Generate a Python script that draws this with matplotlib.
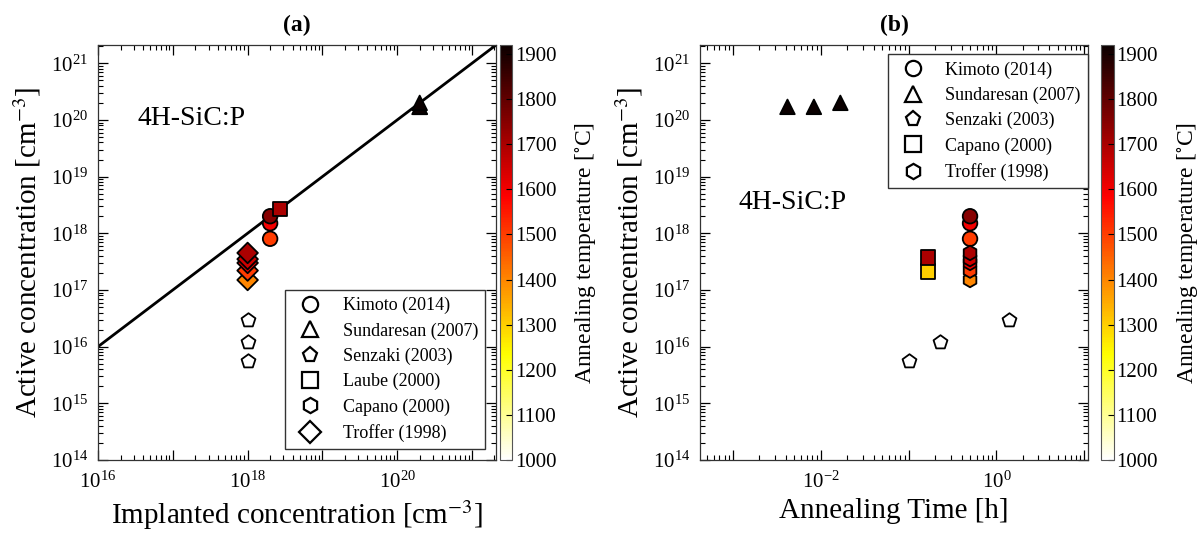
import numpy as np
import matplotlib

matplotlib.use('Agg')
import matplotlib.pyplot as plt
from matplotlib.lines import Line2D
from matplotlib.colors import Normalize
from matplotlib.cm import ScalarMappable
from matplotlib.ticker import LogLocator, FuncFormatter, NullFormatter, MultipleLocator

plt.rcParams['font.family'] = ['Liberation Serif', 'DejaVu Serif']
plt.rcParams['mathtext.fontset'] = 'stix'

# --- phosphorus activation data (4H-SiC) ---
# Kimoto (2014): implanted / active [cm^-3], anneal time [h], temperature [C]
kimoto_impl = [2e18, 2e18, 2e18]
kimoto_act = [8e17, 1.5e18, 2e18]
kimoto_time = [0.5, 0.5, 0.5]
kimoto_temp = [1500, 1600, 1750]

# Sundaresan (2007)
sund_impl = [2e20, 2e20, 2e20]
sund_act = [1.7e20, 1.7e20, 2e20]
sund_time = [15 / 3600, 30 / 3600, 60 / 3600]
sund_temp = [1950, 1950, 1950]

# Senzaki (2003) - no temperature colouring
senz_impl = [1e18, 1e18, 1e18]
senz_act = [5.5e15, 1.2e16, 3e16]
senz_time = [0.1, 0.23, 1.4]

# Laube (2000)
laube_impl = [2.7e18]
laube_act = [2.7e18]
laube_temp = [1700]

# Capano (2000)
capano_act = [2.1e17, 3.7e17]
capano_time = [1 / 6, 1 / 6]
capano_temp = [1300, 1700]

# Troffer (1998)
troffer_impl = [1e18, 1e18, 1e18, 1e18, 1e18]
troffer_act = [1.5e17, 2.2e17, 3.0e17, 3.5e17, 4.5e17]
troffer_time = [0.5, 0.5, 0.5, 0.5, 0.5]
troffer_temp = [1400, 1500, 1600, 1650, 1700]

T_MIN, T_MAX = 1000, 1920
cmap = plt.get_cmap('hot_r')
norm = Normalize(vmin=T_MIN, vmax=T_MAX)

MS = 110     # scatter marker area
EW = 1.3     # marker edge width


def even_decades(v, pos):
    e = int(round(np.log10(v)))
    if e % 2:
        return ''
    return r'$\mathdefault{10^{%d}}$' % e


def all_decades(v, pos):
    return r'$\mathdefault{10^{%d}}$' % int(round(np.log10(v)))


def style_axis(ax):
    ax.set_xscale('log')
    ax.set_yscale('log')
    for axis in (ax.xaxis, ax.yaxis):
        axis.set_major_locator(LogLocator(base=10, numticks=30))
        axis.set_minor_locator(LogLocator(base=10, subs=np.arange(2, 10), numticks=30))
        axis.set_minor_formatter(NullFormatter())
    ax.xaxis.set_major_formatter(FuncFormatter(even_decades))
    ax.yaxis.set_major_formatter(FuncFormatter(all_decades))
    ax.tick_params(which='both', direction='in', top=True, right=True, labelsize=15)
    ax.tick_params(which='major', length=7, width=0.9)
    ax.tick_params(which='minor', length=3.5, width=0.8)
    ax.tick_params(axis='x', which='major', pad=8)
    ax.tick_params(axis='y', which='major', pad=7)
    for sp in ax.spines.values():
        sp.set_linewidth(0.9)
        sp.set_color('#333333')
    ax.set_ylim(1e14, 2.1e21)
    ax.set_ylabel(r'Active concentration [cm$^{-3}$]', fontsize=21, labelpad=6)


def add_colorbar(fig, rect):
    cax = fig.add_axes(rect)
    cb = fig.colorbar(ScalarMappable(norm=norm, cmap=cmap), cax=cax)
    cb.set_ticks(np.arange(1000, 1901, 100))
    cb.ax.tick_params(direction='in', length=4, width=0.8, labelsize=15, pad=2)
    cb.outline.set_linewidth(0.8)
    cb.outline.set_edgecolor('#555555')
    cb.ax.yaxis.set_minor_locator(MultipleLocator(1000))
    cb.set_label(r'Annealing temperature [$^{\circ}$C]', fontsize=17, labelpad=12)
    return cb


def handle(marker):
    return Line2D([], [], ls='none', marker=marker, mfc='white', mec='black',
                  ms=11, mew=1.6)


def scatter(ax, x, y, marker, temps=None):
    if temps is None:
        ax.scatter(x, y, s=MS, marker=marker, facecolor='white', edgecolor='black',
                   linewidth=EW, zorder=3)
    else:
        ax.scatter(x, y, s=MS, marker=marker, c=temps, cmap=cmap, norm=norm,
                   edgecolor='black', linewidth=EW, zorder=3)


fig = plt.figure(figsize=(12, 5.35), dpi=100)

# (a) active vs implanted concentration
ax1 = fig.add_axes([0.0817, 0.1402, 0.3317, 0.7757])
style_axis(ax1)
ax1.set_xlim(1e16, 2.1e21)
line = np.array([1e16, 2.1e21])
ax1.plot(line, line, color='black', lw=2, zorder=2)
scatter(ax1, kimoto_impl, kimoto_act, 'o', kimoto_temp)
scatter(ax1, sund_impl, sund_act, '^', sund_temp)
scatter(ax1, senz_impl, senz_act, 'p')
scatter(ax1, laube_impl, laube_act, 's', laube_temp)
scatter(ax1, troffer_impl, troffer_act, 'D', troffer_temp)
ax1.set_xlabel(r'Implanted concentration [cm$^{-3}$]', fontsize=21, labelpad=4)
ax1.set_title('(a)', fontsize=17, fontweight='bold', pad=10)
ax1.text(0.098, 0.824, '4H-SiC:P', transform=ax1.transAxes, fontsize=20, va='center')
ax1.legend([handle('o'), handle('^'), handle('p'), handle('s'), handle('h'), handle('D')],
           ['Kimoto (2014)', 'Sundaresan (2007)', 'Senzaki (2003)', 'Laube (2000)',
            'Capano (2000)', 'Troffer (1998)'],
           loc='lower right', fontsize=13, fancybox=False, edgecolor='#333333',
           framealpha=1, labelspacing=0.45, borderaxespad=0.6)
add_colorbar(fig, [0.4167, 0.1402, 0.0103, 0.7757])

# (b) active concentration vs annealing time
ax2 = fig.add_axes([0.5833, 0.1402, 0.3233, 0.7757])
style_axis(ax2)
ax2.set_xlim(4.2e-4, 11)
scatter(ax2, kimoto_time, kimoto_act, 'o', kimoto_temp)
scatter(ax2, sund_time, sund_act, '^', sund_temp)
scatter(ax2, senz_time, senz_act, 'p')
scatter(ax2, capano_time, capano_act, 's', capano_temp)
scatter(ax2, troffer_time, troffer_act, 'h', troffer_temp)
ax2.set_xlabel('Annealing Time [h]', fontsize=21, labelpad=4)
ax2.set_title('(b)', fontsize=17, fontweight='bold', pad=10)
ax2.text(0.10, 0.62, '4H-SiC:P', transform=ax2.transAxes, fontsize=20, va='center')
ax2.legend([handle('o'), handle('^'), handle('p'), handle('s'), handle('h')],
           ['Kimoto (2014)', 'Sundaresan (2007)', 'Senzaki (2003)', 'Capano (2000)',
            'Troffer (1998)'],
           loc='upper right', bbox_to_anchor=(1.0, 1 - 9 / 415), borderaxespad=0,
           fontsize=13, fancybox=False, edgecolor='#333333', framealpha=1,
           labelspacing=0.45)
add_colorbar(fig, [0.9172, 0.1402, 0.011, 0.7757])

fig.savefig('out.png', dpi=100)
